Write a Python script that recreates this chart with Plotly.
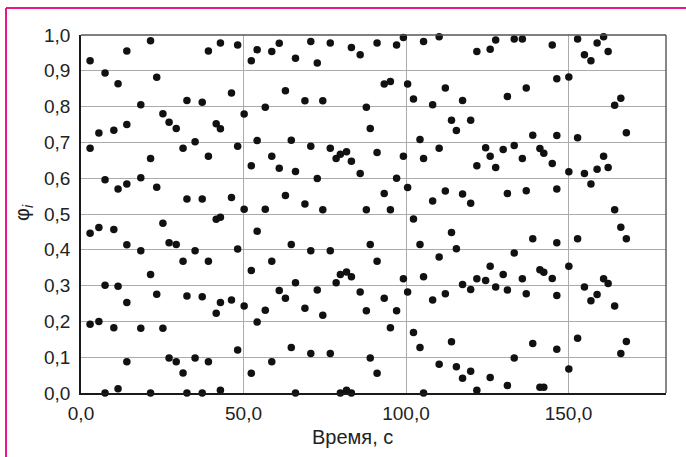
import plotly.graph_objects as go

# Phase values phi_i sampled over time; one row per time stamp
time_s = (
    [2.8] * 4 + [5.5] * 3 + [7.4] * 4 + [10.1] * 3 + [11.4] * 4 +
    [14.1] * 6 + [18.4] * 4 + [21.4] * 4 + [23.3] * 3 + [25.2] * 3 +
    [27.1] * 3 + [29.3] * 3 + [31.4] * 3 + [32.6] * 4 + [35.1] * 3 +
    [37.3] * 4 + [39.2] * 4 + [41.6] * 3 + [42.9] * 5 + [46.3] * 3 +
    [48.2] * 4 + [50.2] * 3 + [52.4] * 4 + [54.2] * 4 + [56.7] * 3 +
    [58.7] * 4 + [61.0] * 3 + [62.9] * 3 + [64.7] * 3 + [66.0] * 4 +
    [68.9] * 3 + [70.7] * 4 + [72.7] * 3 + [74.4] * 3 + [76.7] * 4 +
    [78.5] * 2 + [79.8] * 3 + [81.7] * 3 + [83.2] * 4 + [85.9] * 3 +
    [87.8] * 3 + [89.0] * 3 + [91.1] * 4 + [93.3] * 3 + [95.2] * 3 +
    [97.1] * 3 + [99.2] * 3 + [100.5] * 3 + [102.3] * 3 + [104.3] * 3 +
    [105.4] * 4 + [108.2] * 3 + [110.2] * 4 + [112.1] * 3 + [114.0] * 3 +
    [115.5] * 3 + [117.4] * 4 + [119.9] * 4 + [121.8] * 4 + [124.5] * 2 +
    [125.9] * 4 + [127.6] * 3 + [129.9] * 2 + [131.2] * 4 + [133.3] * 4 +
    [135.8] * 3 + [137.0] * 3 + [139.0] * 3 + [141.2] * 3 + [142.4] * 3 +
    [145.0] * 3 + [146.4] * 6 + [150.1] * 4 + [152.8] * 4 + [154.9] * 3 +
    [156.9] * 3 + [158.8] * 3 + [160.8] * 3 + [162.2] * 3 + [164.2] * 3 +
    [166.1] * 3 + [167.8] * 3
)

phi = [
    0.928, 0.684, 0.446, 0.192,
    0.726, 0.462, 0.200,
    0.894, 0.596, 0.301, 0.0,
    0.734, 0.457, 0.182,
    0.864, 0.570, 0.298, 0.012,
    0.955, 0.750, 0.584, 0.414, 0.253, 0.087,
    0.805, 0.601, 0.397, 0.181,
    0.984, 0.655, 0.331, 0.0,
    0.882, 0.575, 0.276,
    0.780, 0.474, 0.181,
    0.756, 0.420, 0.098,
    0.739, 0.415, 0.087,
    0.684, 0.368, 0.056,
    0.817, 0.542, 0.271, 0.0,
    0.702, 0.397, 0.098,
    0.812, 0.542, 0.269, 0.0,
    0.955, 0.661, 0.368, 0.087,
    0.752, 0.485, 0.223,
    0.978, 0.738, 0.491, 0.253, 0.008,
    0.838, 0.546, 0.260,
    0.972, 0.689, 0.402, 0.120,
    0.779, 0.513, 0.243,
    0.928, 0.635, 0.342, 0.055,
    0.959, 0.705, 0.452, 0.198,
    0.798, 0.513, 0.231,
    0.954, 0.661, 0.368, 0.087,
    0.977, 0.628, 0.286,
    0.844, 0.552, 0.265,
    0.706, 0.415, 0.127,
    0.935, 0.619, 0.308, 0.0,
    0.816, 0.528, 0.237,
    0.982, 0.689, 0.397, 0.110,
    0.922, 0.599, 0.288,
    0.816, 0.512, 0.217,
    0.978, 0.684, 0.397, 0.110,
    0.655, 0.308,
    0.667, 0.331, 0.0,
    0.674, 0.338, 0.008,
    0.965, 0.647, 0.325, 0.0,
    0.945, 0.613, 0.282,
    0.798, 0.512, 0.230,
    0.739, 0.415, 0.098,
    0.978, 0.672, 0.368, 0.055,
    0.863, 0.557, 0.265,
    0.870, 0.512, 0.182,
    0.972, 0.600, 0.230,
    0.993, 0.661, 0.319,
    0.863, 0.574, 0.282,
    0.821, 0.486, 0.169,
    0.708, 0.415, 0.127,
    0.982, 0.655, 0.325, 0.0,
    0.805, 0.536, 0.260,
    0.995, 0.684, 0.380, 0.080,
    0.852, 0.564, 0.277,
    0.762, 0.448, 0.143,
    0.733, 0.403, 0.073,
    0.817, 0.556, 0.303, 0.041,
    0.762, 0.530, 0.289, 0.061,
    0.954, 0.635, 0.319, 0.008,
    0.685, 0.314,
    0.960, 0.661, 0.354, 0.043,
    0.986, 0.630, 0.296,
    0.680, 0.331,
    0.828, 0.557, 0.288, 0.021,
    0.989, 0.691, 0.391, 0.098,
    0.989, 0.655, 0.319,
    0.852, 0.565, 0.277,
    0.720, 0.431, 0.138,
    0.683, 0.344, 0.016,
    0.670, 0.337, 0.016,
    0.972, 0.641, 0.320,
    0.878, 0.719, 0.570, 0.420, 0.272, 0.122,
    0.883, 0.618, 0.354, 0.067,
    0.989, 0.713, 0.431, 0.153,
    0.945, 0.613, 0.296,
    0.928, 0.584, 0.258,
    0.978, 0.625, 0.275,
    0.995, 0.661, 0.319,
    0.954, 0.630, 0.306,
    0.804, 0.512, 0.243,
    0.823, 0.463, 0.110,
    0.727, 0.431, 0.144,
]

x_ticks = [0, 50, 100, 150]
y_ticks = [0.0, 0.1, 0.2, 0.3, 0.4, 0.5, 0.6, 0.7, 0.8, 0.9, 1.0]

FONT = "Liberation Sans, Arial, sans-serif"
TEXT = "#222222"
GRID = "#ababab"
PINK = "#e8178a"

W, H = 686, 457
ML, MR, MT, MB = 81, 20, 35, 64
PW, PH = W - ML - MR, H - MT - MB


def px_x(px):
    return (px - ML) / PW


def px_y(py):
    return (H - MB - py) / PH


fig = go.Figure(
    go.Scatter(
        x=time_s,
        y=phi,
        mode="markers",
        marker=dict(size=7.5, color="#111111"),
        cliponaxis=False,
        hoverinfo="x+y",
    )
)

fig.update_layout(
    width=W,
    height=H,
    margin=dict(l=ML, r=MR, t=MT, b=MB),
    paper_bgcolor="white",
    plot_bgcolor="white",
    separators=", ",
    showlegend=False,
    font=dict(family=FONT, size=19, color=TEXT),
    xaxis=dict(
        range=[0, 180],
        tickvals=x_ticks,
        tickformat=".1f",
        showgrid=True,
        gridcolor=GRID,
        gridwidth=1.2,
        zeroline=False,
        showline=True,
        linecolor="#1a1a1a",
        linewidth=1.6,
        ticks="",
        ticklabelstandoff=2,
    ),
    yaxis=dict(
        range=[0, 1],
        tickvals=y_ticks,
        tickformat=".1f",
        showgrid=True,
        gridcolor=GRID,
        gridwidth=1.2,
        zeroline=False,
        showline=True,
        linecolor="#1a1a1a",
        linewidth=1.6,
        ticks="",
        ticklabelstandoff=5,
    ),
    shapes=[
        # top and right edges of the plot frame
        dict(type="line", xref="paper", yref="paper", x0=0, x1=1, y0=1, y1=1,
             line=dict(color="#555555", width=1.4), layer="above"),
        dict(type="line", xref="paper", yref="paper", x0=1, x1=1, y0=0, y1=1,
             line=dict(color="#555555", width=1.4), layer="above"),
        # magenta page border
        dict(type="line", xref="paper", yref="paper",
             x0=px_x(6), x1=px_x(690), y0=px_y(8), y1=px_y(8),
             line=dict(color=PINK, width=2)),
        dict(type="line", xref="paper", yref="paper",
             x0=px_x(6), x1=px_x(6), y0=px_y(8), y1=px_y(460),
             line=dict(color=PINK, width=2)),
    ],
    annotations=[
        dict(text="Время, с", xref="paper", yref="paper",
             x=px_x(352), y=px_y(437), xanchor="center", yanchor="middle",
             showarrow=False, font=dict(family=FONT, size=20, color=TEXT)),
        dict(text="φ<sub><i>i</i></sub>", xref="paper", yref="paper",
             x=px_x(23), y=px_y(213), xanchor="center", yanchor="middle",
             textangle=-90, showarrow=False,
             font=dict(family=FONT, size=20, color=TEXT)),
    ],
)

fig.write_html("out.html")
